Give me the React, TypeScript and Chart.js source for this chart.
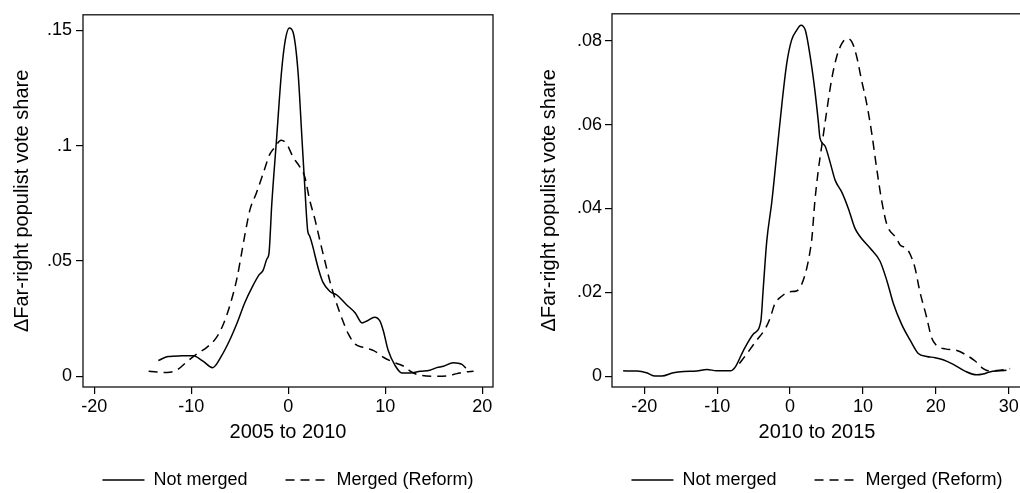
import React, { useEffect, useRef } from 'react';
import { Chart, registerables } from 'chart.js';

Chart.register(...registerables);

const FONT = "'Liberation Sans', Arial, Helvetica, sans-serif";

// ---- Series labels ----
const seriesLabels = ['Not merged', 'Merged (Reform)'];
const yAxisTitle = '\u0394Far-right populist vote share';

// ---- Left panel: 2005 to 2010 ----
const leftXTitle = '2005 to 2010';
const leftXTicks = [-20, -10, 0, 10, 20];
const leftXTickLabels = ['-20', '-10', '0', '10', '20'];
const leftYTicks = [0, 0.05, 0.1, 0.15];
const leftYTickLabels = ['0', '.05', '.1', '.15'];

const leftNotMergedX = [-13.4, -12.4, -11.0, -9.8, -8.8, -7.8, -6.9, -6.0, -5.2, -4.5, -3.7, -3.0, -2.6, -2.2, -2.0, -1.7, -1.2, -0.7, -0.3, 0.1, 0.5, 1.0, 1.4, 1.7, 2.0, 2.2, 2.6, 2.75, 3.1, 3.55, 4.3, 5.0, 6.0, 6.9, 7.6, 8.1, 8.9, 9.45, 9.8, 10.3, 11.0, 11.7, 12.55, 13.6, 14.6, 15.3, 16.0, 17.0, 17.9, 18.3];
const leftNotMergedY = [0.0068, 0.0085, 0.0088, 0.0089, 0.0065, 0.0037, 0.0087, 0.016, 0.0239, 0.0317, 0.0388, 0.044, 0.0459, 0.0509, 0.053, 0.075, 0.1035, 0.132, 0.146, 0.151, 0.149, 0.132, 0.1035, 0.082, 0.063, 0.0608, 0.055, 0.0523, 0.0466, 0.0409, 0.0367, 0.0352, 0.031, 0.0274, 0.0231, 0.0239, 0.0256, 0.0239, 0.0196, 0.0111, 0.0047, 0.0014, 0.0014, 0.0021, 0.0026, 0.0037, 0.0043, 0.0058, 0.0051, 0.0035];

const leftMergedX = [-14.4, -12.5, -11.5, -10.5, -9.4, -8.4, -7.4, -6.7, -6.0, -5.3, -4.8, -4.5, -3.95, -3.3, -2.6, -1.9, -1.4, -0.75, -0.15, 0.5, 1.2, 1.7, 2.2, 2.75, 3.3, 3.8, 4.3, 4.8, 5.5, 6.2, 6.9, 7.7, 8.8, 9.8, 10.8, 11.9, 12.7, 13.6, 15.0, 16.3, 17.4, 18.2, 19.1];
const leftMergedY = [0.0021, 0.0016, 0.0026, 0.0061, 0.0097, 0.0125, 0.0168, 0.0225, 0.031, 0.0423, 0.0537, 0.0608, 0.0722, 0.0793, 0.0878, 0.0963, 0.0992, 0.1023, 0.1006, 0.0949, 0.0907, 0.0864, 0.0764, 0.0679, 0.058, 0.0494, 0.0409, 0.0338, 0.0253, 0.0182, 0.0139, 0.0125, 0.0111, 0.0082, 0.0061, 0.0043, 0.0018, 0.0004, 0, 0.0001, 0.0011, 0.0018, 0.0021];

// ---- Right panel: 2010 to 2015 ----
const rightXTitle = '2010 to 2015';
const rightXTicks = [-20, -10, 0, 10, 20, 30];
const rightXTickLabels = ['-20', '-10', '0', '10', '20', '30'];
const rightYTicks = [0, 0.02, 0.04, 0.06, 0.08];
const rightYTickLabels = ['0', '.02', '.04', '.06', '.08'];

const rightNotMergedX = [-22.9, -21.0, -19.7, -18.5, -17.6, -16.0, -14.6, -12.8, -11.4, -10.1, -8.2, -7.5, -6.4, -5.0, -4.0, -3.7, -3.2, -2.5, -1.8, -1.1, -0.45, 0.2, 0.9, 1.5, 2.1, 2.7, 3.4, 3.9, 4.1, 4.8, 5.5, 6.2, 7.1, 8.0, 8.9, 9.6, 11.0, 12.35, 13.3, 14.2, 15.3, 16.5, 17.6, 18.75, 19.9, 21.0, 22.4, 24.0, 25.6, 26.5, 27.4, 28.8, 29.7];
const rightNotMergedY = [0.00125, 0.0012, 0.0008, 0, 0, 0.0008, 0.0011, 0.0012, 0.0016, 0.00125, 0.00125, 0.0022, 0.0061, 0.0101, 0.0132, 0.0203, 0.0321, 0.0416, 0.0534, 0.0652, 0.0746, 0.0801, 0.0825, 0.0837, 0.0825, 0.077, 0.0683, 0.0604, 0.0569, 0.0549, 0.051, 0.0467, 0.0439, 0.04, 0.0353, 0.0333, 0.0305, 0.0274, 0.0227, 0.0172, 0.0124, 0.0085, 0.0054, 0.0047, 0.0044, 0.0039, 0.0028, 0.0012, 0.0003, 0.0005, 0.001, 0.00125, 0.0014];

const rightMergedX = [-6.95, -5.9, -4.6, -3.4, -2.7, -2.1, -1.1, -0.2, 0.9, 1.6, 2.3, 2.75, 3.0, 3.4, 3.9, 4.35, 5.0, 5.7, 6.4, 7.1, 7.8, 8.5, 9.15, 9.8, 10.5, 11.2, 11.9, 12.6, 13.3, 14.6, 15.1, 16.0, 16.5, 17.15, 17.8, 18.75, 19.4, 20.1, 21.3, 22.9, 24.2, 25.4, 26.5, 27.4, 28.8, 30.2];
const rightMergedY = [0.003, 0.0054, 0.0085, 0.0113, 0.014, 0.0172, 0.0191, 0.0201, 0.0203, 0.0219, 0.0258, 0.0298, 0.0329, 0.0416, 0.0494, 0.0549, 0.0628, 0.0707, 0.0762, 0.0793, 0.0805, 0.0797, 0.0762, 0.0707, 0.0652, 0.0581, 0.0494, 0.0416, 0.0361, 0.0329, 0.0313, 0.0305, 0.029, 0.0258, 0.0203, 0.014, 0.0093, 0.0073, 0.0065, 0.0061, 0.005, 0.0036, 0.0018, 0.0012, 0.0014, 0.0018];

const zip = (xs: number[], ys: number[]) => xs.map((x, i) => ({ x, y: ys[i] }));

const plotBox = {
  id: 'plotBox',
  afterDatasetsDraw(chart: any) {
    const { ctx, chartArea } = chart;
    ctx.save();
    ctx.strokeStyle = '#111';
    ctx.lineWidth = 1.3;
    ctx.strokeRect(chartArea.left, chartArea.top, chartArea.right - chartArea.left, chartArea.bottom - chartArea.top);
    ctx.restore();
  },
};

interface PanelSpec {
  solidX: number[]; solidY: number[]; dashX: number[]; dashY: number[];
  xMin: number; xMax: number; yMin: number; yMax: number;
  xTicks: number[]; xTickLabels: string[]; yTicks: number[]; yTickLabels: string[];
  xTitle: string; yAxisWidth: number; yTitlePad: number; yLabelPad: number;
}

function makeConfig(p: PanelSpec): any {
  const tickFont = { family: FONT, size: 18 };
  const titleFont = { family: FONT, size: 20 };
  return {
    type: 'line',
    data: {
      datasets: [
        {
          label: seriesLabels[0], data: zip(p.solidX, p.solidY), xAxisID: 'x', yAxisID: 'y',
          borderColor: '#000', backgroundColor: '#000', borderWidth: 1.5, pointRadius: 0,
          cubicInterpolationMode: 'monotone', fill: false,
        },
        {
          label: seriesLabels[1], data: zip(p.dashX, p.dashY), xAxisID: 'x', yAxisID: 'y',
          borderColor: '#000', backgroundColor: '#000', borderWidth: 1.5, borderDash: [9, 6], pointRadius: 0,
          cubicInterpolationMode: 'monotone', fill: false,
        },
      ],
    },
    options: {
      responsive: false,
      animation: false,
      devicePixelRatio: 1,
      layout: { padding: { top: 10, left: 0, right: 0, bottom: 0 } },
      plugins: {
        legend: {
          position: 'bottom',
          labels: {
            usePointStyle: false, boxWidth: 42, boxHeight: 0, padding: 38,
            color: '#000', font: { family: FONT, size: 18 },
          },
        },
        tooltip: { enabled: false },
      },
      scales: {
        x: {
          type: 'linear', position: 'bottom', min: p.xMin, max: p.xMax,
          afterBuildTicks: (s: any) => { s.ticks = p.xTicks.map((v) => ({ value: v })); },
          afterFit: (s: any) => { s.height = 46; },
          ticks: {
            autoSkip: false, maxRotation: 0, minRotation: 0, padding: 2, color: '#000', font: tickFont,
            callback: (_v: any, i: number) => p.xTickLabels[i],
          },
          grid: { drawOnChartArea: false, drawTicks: true, tickLength: 7, color: '#000', lineWidth: 1.2 },
          border: { display: false },
          title: { display: true, text: p.xTitle, color: '#000', font: titleFont, padding: { top: 0, bottom: -11 } },
        },
        y: {
          type: 'linear', position: 'left', min: p.yMin, max: p.yMax,
          afterBuildTicks: (s: any) => { s.ticks = p.yTicks.map((v) => ({ value: v })); },
          afterFit: (s: any) => { s.width = p.yAxisWidth; },
          ticks: {
            autoSkip: false, padding: p.yLabelPad, color: '#000', font: tickFont,
            callback: (_v: any, i: number) => p.yTickLabels[i],
          },
          grid: { drawOnChartArea: false, drawTicks: true, tickLength: 7, color: '#000', lineWidth: 1.2 },
          border: { display: false },
          title: { display: true, text: yAxisTitle, color: '#000', font: titleFont, padding: { top: p.yTitlePad, bottom: 0 } },
        },
        pad: {
          type: 'linear', axis: 'y', position: 'right', display: true,
          afterFit: (s: any) => { s.width = p.yAxisWidth; },
          ticks: { display: false },
          grid: { display: false, drawTicks: false },
          border: { display: false },
          title: { display: false },
        },
      },
    },
    plugins: [plotBox],
  };
}

function Panel({ spec, left }: { spec: PanelSpec; left: number }) {
  const ref = useRef<HTMLCanvasElement | null>(null);
  const width = spec.yAxisWidth * 2 + 410;
  useEffect(() => {
    if (!ref.current) return;
    const chart = new Chart(ref.current, makeConfig(spec));
    return () => chart.destroy();
  }, []);
  return (
    <canvas
      ref={ref}
      width={width}
      height={499}
      style={{ position: 'absolute', left, top: 0, width, height: 499 }}
    />
  );
}

const leftSpec: PanelSpec = {
  solidX: leftNotMergedX, solidY: leftNotMergedY, dashX: leftMergedX, dashY: leftMergedY,
  xMin: -21.165, xMax: 21.1, yMin: -0.0047, yMax: 0.1567,
  xTicks: leftXTicks, xTickLabels: leftXTickLabels, yTicks: leftYTicks, yTickLabels: leftYTickLabels,
  xTitle: leftXTitle, yAxisWidth: 83, yTitlePad: 10, yLabelPad: 4,
};

const rightSpec: PanelSpec = {
  solidX: rightNotMergedX, solidY: rightNotMergedY, dashX: rightMergedX, dashY: rightMergedY,
  xMin: -24.43, xMax: 31.83, yMin: -0.0026, yMax: 0.08644,
  xTicks: rightXTicks, xTickLabels: rightXTickLabels, yTicks: rightYTicks, yTickLabels: rightYTickLabels,
  xTitle: rightXTitle, yAxisWidth: 102, yTitlePad: 27, yLabelPad: 3,
};

export default function App() {
  return (
    <div style={{ position: 'fixed', left: 0, top: 0, width: 1020, height: 493, overflow: 'hidden', background: '#fff' }}>
      <Panel spec={leftSpec} left={0} />
      <Panel spec={rightSpec} left={510} />
    </div>
  );
}
